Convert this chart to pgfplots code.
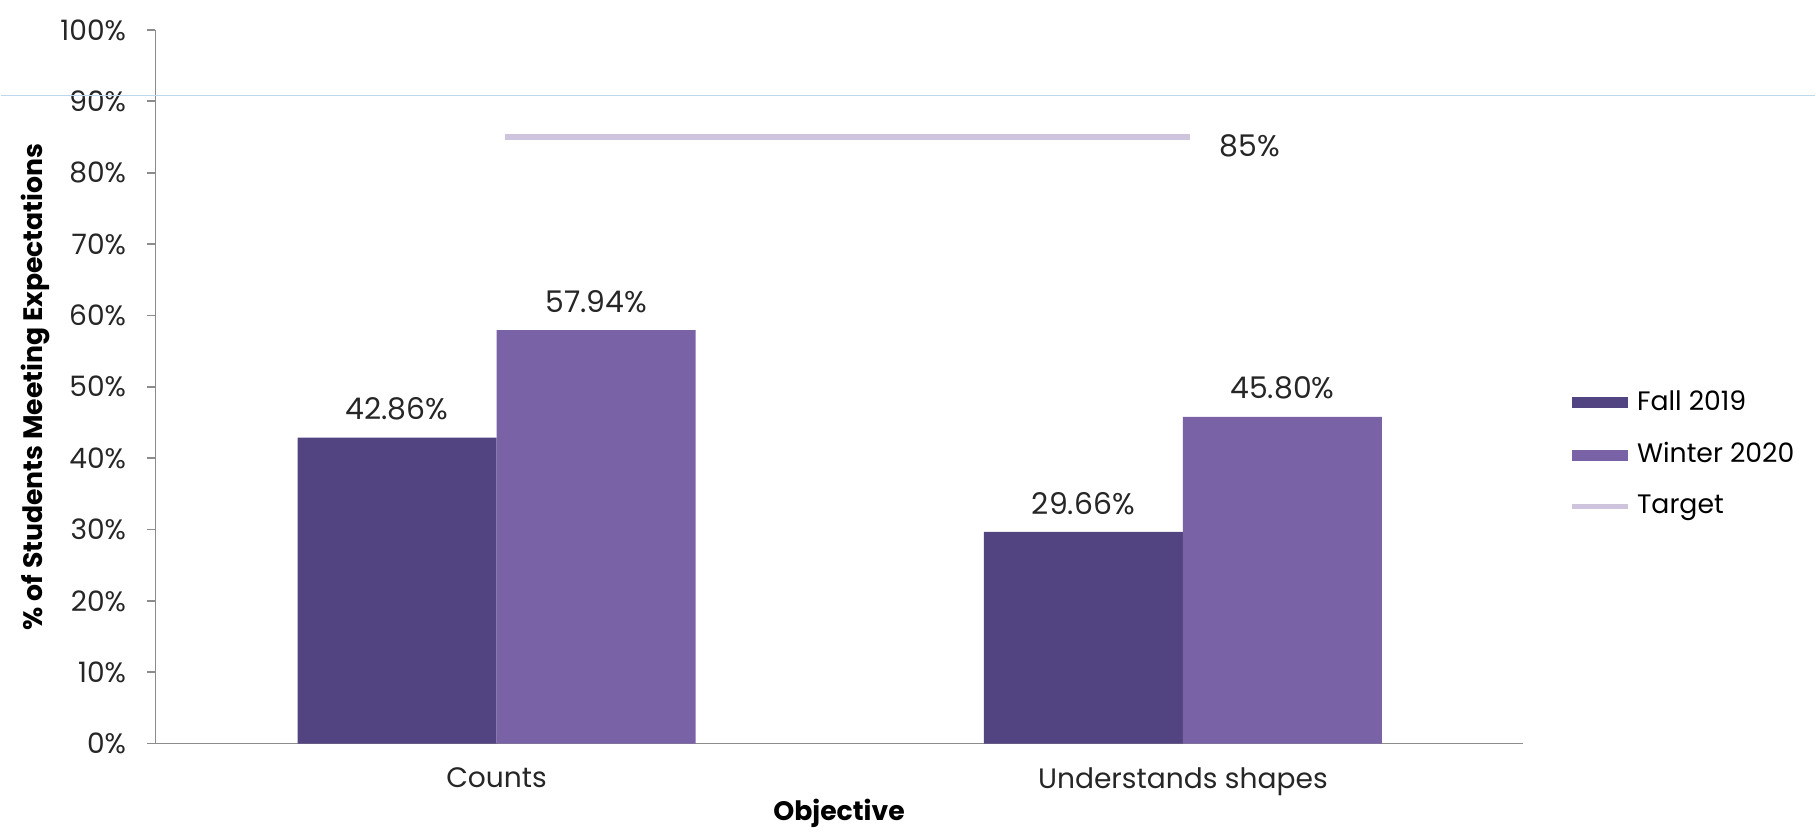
\documentclass[border=0pt]{standalone}
\usepackage{pgfplots}
\pgfplotsset{compat=1.18}
\usepackage{fontspec}
\setmainfont{Poppins}
\definecolor{fallc}{RGB}{82,68,128}
\definecolor{winterc}{RGB}{122,98,166}
\definecolor{targetc}{RGB}{206,196,222}
\definecolor{axisgray}{RGB}{140,140,140}
\definecolor{scanblue}{RGB}{190,215,235}

\begin{document}
\begin{tikzpicture}
\begin{axis}[
  name=ax,
  width=136.8mm, height=71.4mm, scale only axis,
  xmin=-0.497, xmax=1.495, ymin=0, ymax=100,
  axis x line*=bottom, axis y line*=left,
  axis line style={axisgray, line width=0.5pt},
  xtick={0,1}, xticklabels={Counts, Understands shapes},
  xtick style={draw=none},
  ytick={0,10,...,100},
  yticklabel={\pgfmathprintnumber{\tick}\%},
  ytick style={axisgray, line width=0.5pt},
  tick align=outside, major tick length=0.8mm,
  /pgf/number format/assume math mode=true,
  tick label style={font=\fontsize{8}{9}\selectfont, text=black!85},
  yticklabel style={xshift=-0.9mm},
  xticklabel style={yshift=-0.4mm},
  xlabel={\textbf{Objective}},
  xlabel style={font=\fontsize{7.6}{8}\selectfont, at={(axis description cs:0.5,0)},
    anchor=base, yshift=-7.7mm, inner sep=0pt},
  ylabel={\textbf{\% of Students Meeting Expectations}},
  ylabel style={font=\fontsize{7.6}{8}\selectfont, yshift=-1.4mm},
  clip=false,
  legend style={draw=none, fill=none, at={(1.034,0.405)}, anchor=west,
    font=\fontsize{7.6}{9}\selectfont, row sep=1.3mm, inner sep=0pt, outer sep=0pt,
    /tikz/every even column/.append style={column sep=0mm}},
  legend cell align=left,
]
\addplot[ybar, bar width=0.29, bar shift=-0.145, fill=fallc, draw=none,
  nodes near coords={\pgfmathprintnumber[fixed,fixed zerofill,precision=2]{\pgfplotspointmeta}\%},
  every node near coord/.append style={font=\fontsize{8.5}{9}\selectfont, text=black!85, yshift=0.5mm, xshift=-9.96mm},
  legend image code/.code={\fill[fallc] (0mm,-0.55mm) rectangle (5.6mm,0.55mm);}]
  coordinates {(0,42.86) (1,29.66)};
\addlegendentry{Fall 2019}
\addplot[ybar, bar width=0.29, bar shift=0.145, fill=winterc, draw=none,
  nodes near coords={\pgfmathprintnumber[fixed,fixed zerofill,precision=2]{\pgfplotspointmeta}\%},
  every node near coord/.append style={font=\fontsize{8.5}{9}\selectfont, text=black!85, yshift=0.5mm, xshift=9.96mm},
  legend image code/.code={\fill[winterc] (0mm,-0.55mm) rectangle (5.6mm,0.55mm);}]
  coordinates {(0,57.94) (1,45.80)};
\addlegendentry{Winter 2020}
\addplot[targetc, line width=1.7pt,
  legend image code/.code={\draw[targetc, line width=1.4pt] (0mm,0mm) -- (5.6mm,0mm);}]
  coordinates {(0.012,85) (1.01,85)}
  node[pos=1, anchor=west, text=black!85, font=\fontsize{8.5}{9}\selectfont, xshift=1.5mm, yshift=-0.9mm] {85\%};
\addlegendentry{Target}
\end{axis}
% page frame and faint scan line near 90 %
\path ([xshift=-15.5mm,yshift=-8.9mm]ax.south west) coordinate (bl)
      ([xshift=29.3mm,yshift=3.0mm]ax.north east) coordinate (tr);
\path (bl) rectangle (tr);
\draw[scanblue, line width=0.3pt] ([yshift=-9.6mm]bl |- tr) -- ([yshift=-9.6mm]tr);
\end{tikzpicture}
\end{document}
